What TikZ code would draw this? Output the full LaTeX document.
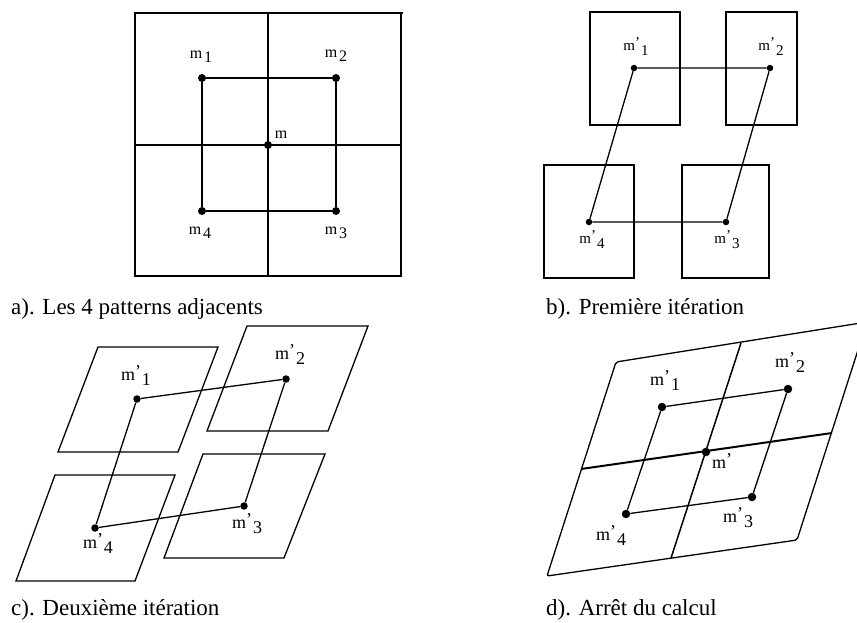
\documentclass[tikz,border=0pt]{standalone}
\usepackage{fontspec}
\setmainfont{Liberation Serif}
\usetikzlibrary{positioning}
\newcommand{\mlab}[1]{m\hspace{2pt}\raisebox{-4pt}{#1}}
\newcommand{\mplab}[1]{m\raisebox{3pt}{’}\hspace{1pt}\raisebox{-5pt}{#1}}
\begin{document}
\begin{tikzpicture}[x=1pt, y=-1pt,
  dot/.style={circle, fill=black, inner sep=0pt, minimum size=8pt},
  lab/.style={inner sep=0pt, anchor=base},
  captext/.style={inner sep=0pt, anchor=base west, font=\fontsize{23}{23}\selectfont},
  link/.style={line width=1.3pt},
  frame/.style={line width=1.5pt}]
\clip (0,0) rectangle (857,622);

\draw[frame] (135,13) rectangle (401,276);
\draw[line width=2pt] (135,12.5) -- (403,12.5);
\draw[line width=2.6pt] (268,13) -- (268,276);
\draw[link] (135,145) -- (401,145);
\node[dot] (A1) at (202,78) {};
\node[dot] (A2) at (336,78) {};
\node[dot] (A3) at (336,211) {};
\node[dot] (A4) at (202,211) {};
\node[dot] (AM) at (268,145) {};
\draw[link] (A1) -- (A2) -- (A3) -- (A4) -- (A1);
\begin{scope}[every node/.style={lab, font=\fontsize{16}{16}\selectfont}]
\node (LA1) at (201,58) {\mlab{1}};
\node (LA2) at (336,57) {\mlab{2}};
\node (LA3) at (336,234) {\mlab{3}};
\node (LA4) at (200,234) {\mlab{4}};
\node (LAM) at (281,138) {m};
\end{scope}
\node[captext] (CapA) at (11,314) {a). Les 4 patterns adjacents};

\draw[frame] (590,12) rectangle (680,125);
\draw[frame] (726,12) rectangle (797,125);
\draw[frame] (544,165) rectangle (634,278);
\draw[frame] (682,165) rectangle (769,278);
\node[dot, minimum size=6.5pt] (B1) at (634,68) {};
\node[dot, minimum size=6.5pt] (B2) at (770,68) {};
\node[dot, minimum size=6.5pt] (B3) at (726,222) {};
\node[dot, minimum size=6.5pt] (B4) at (589,222) {};
\draw[link] (B1) -- (B2) -- (B3) -- (B4) -- (B1);
\begin{scope}[every node/.style={lab, font=\fontsize{15}{15}\selectfont}]
\node (LB1) at (636,50) {\mplab{1}};
\node (LB2) at (771,50) {\mplab{2}};
\node (LB3) at (727,243) {\mplab{3}};
\node (LB4) at (592,243) {\mplab{4}};
\end{scope}
\node[captext] (CapB) at (546,314) {b). Première itération};

\draw[link] (98,347) -- (218,347) -- (178,452) -- (58,452) -- cycle;
\draw[link] (247,326) -- (368,326) -- (328,431) -- (207,431) -- cycle;
\draw[link] (203,454) -- (325,454) -- (284,558) -- (164,558) -- cycle;
\draw[link] (55,475) -- (175,475) -- (135,581) -- (16,581) -- cycle;
\node[dot, minimum size=7.5pt] (C1) at (137,399) {};
\node[dot, minimum size=7.5pt] (C2) at (286,379) {};
\node[dot, minimum size=7.5pt] (C3) at (244,506) {};
\node[dot, minimum size=7.5pt] (C4) at (95,528) {};
\draw[link] (C1) -- (C2) -- (C3) -- (C4) -- (C1);
\begin{scope}[every node/.style={lab, font=\fontsize{18}{18}\selectfont}]
\node (LC1) at (136,380) {\mplab{1}};
\node (LC2) at (290,359) {\mplab{2}};
\node (LC3) at (247,528) {\mplab{3}};
\node (LC4) at (98,548) {\mplab{4}};
\end{scope}
\node[captext] (CapC) at (11,615) {c). Deuxième itération};

\draw[link, rounded corners=2pt] (616,362) -- (867,322) -- (797,540) -- (547,576) -- cycle;
\draw[line width=2pt] (581,469) -- (832,433);
\draw[line width=1.5pt] (741,343) -- (671,558);
\node[dot, minimum size=8.5pt] (D1) at (662,407) {};
\node[dot, minimum size=8.5pt] (D2) at (788,389) {};
\node[dot, minimum size=8.5pt] (D3) at (752,497) {};
\node[dot, minimum size=8.5pt] (D4) at (626,514) {};
\node[dot, minimum size=8.5pt] (DM) at (706,452) {};
\draw[link] (D1) -- (D2) -- (D3) -- (D4) -- (D1);
\begin{scope}[every node/.style={lab, font=\fontsize{18}{18}\selectfont}]
\node (LD1) at (665,385) {\mplab{1}};
\node (LD2) at (790,367) {\mplab{2}};
\node (LDM) at (722,468) {m\raisebox{3pt}{’}};
\node (LD3) at (738,522) {\mplab{3}};
\node (LD4) at (611,540) {\mplab{4}};
\end{scope}
\node[captext] (CapD) at (546,615) {d). Arrêt du calcul};
\end{tikzpicture}
\end{document}
